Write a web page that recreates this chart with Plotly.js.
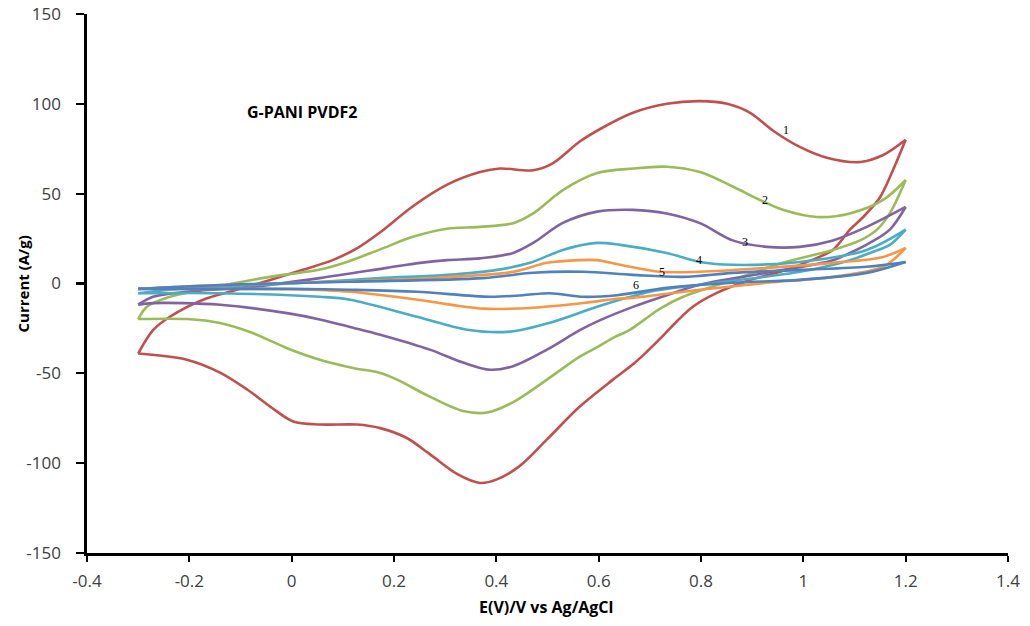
<!DOCTYPE html>
<html>
<head>
<meta charset="utf-8">
<script src="https://cdn.plot.ly/plotly-3.0.1.min.js"></script>
<style>
  html, body { margin: 0; padding: 0; background: #ffffff; }
  #chart { width: 1030px; height: 626px; }
</style>
</head>
<body>
<div id="chart"></div>
<script>
// ---- Data ----
// Each cycle is split into a forward (anodic) sweep and a reverse (cathodic) sweep.
const cycleNames = ['1', '2', '3', '4', '5', '6'];
const cycleColors = ['#C0504D', '#9BBB59', '#8064A2', '#4BACC6', '#F79646', '#4F81BD'];

const c1ForwardE = [-0.3, -0.271, -0.238, -0.173, -0.107, -0.042, 0.022, 0.08, 0.13, 0.173, 0.237, 0.304, 0.368, 0.407, 0.472, 0.511, 0.563, 0.603, 0.667, 0.733, 0.798, 0.851, 0.896, 0.941, 0.993, 1.046, 1.111, 1.156, 1.2];
const c1ForwardI = [-39, -26, -18.5, -9, -3.5, 2, 7.6, 13, 20, 28.5, 43, 55, 62, 64, 63, 67, 79, 86, 95, 100, 101.5, 100, 95, 85, 76, 70, 67.6, 71.5, 80];
const c1ReverseE = [1.2, 1.175, 1.15, 1.117, 1.091, 1.058, 1.007, 0.968, 0.896, 0.831, 0.784, 0.753, 0.726, 0.694, 0.667, 0.628, 0.563, 0.499, 0.446, 0.401, 0.368, 0.323, 0.270, 0.225, 0.173, 0.128, 0.055, 0.003, -0.042, -0.087, -0.14, -0.205, -0.3];
const c1ReverseI = [80, 63, 48, 37, 30, 18.7, 12, 7.6, 2, -5.2, -12.9, -21, -29, -38, -45, -53.5, -68.5, -86.8, -101.5, -109, -111, -106, -95, -86, -80.5, -78.5, -78.5, -76.8, -68.5, -59, -49.6, -42.4, -39];

const c2ForwardE = [-0.3, -0.283, -0.238, -0.173, -0.107, -0.042, 0.055, 0.108, 0.173, 0.237, 0.304, 0.368, 0.433, 0.472, 0.530, 0.597, 0.667, 0.733, 0.798, 0.862, 0.915, 0.960, 1.027, 1.091, 1.156, 1.2];
const c2ForwardI = [-20, -13, -7.4, -3.5, 0.4, 3.7, 7.8, 12, 19, 26, 30.5, 31.5, 33.6, 39, 52, 61.5, 64, 65, 62, 54, 46.5, 41, 37, 39, 46.5, 57.6];
const c2ReverseE = [1.2, 1.169, 1.144, 1.111, 1.058, 0.960, 0.862, 0.765, 0.720, 0.690, 0.660, 0.630, 0.600, 0.563, 0.499, 0.433, 0.382, 0.335, 0.270, 0.206, 0.173, 0.120, 0.055, -0.009, -0.076, -0.14, -0.205, -0.3];
const c2ReverseI = [57.6, 39, 30, 24, 18.7, 11.5, 2, -7.4, -14, -20, -26, -30, -35, -40.7, -53.5, -66, -71.8, -71, -63, -53.5, -49.8, -47, -42.4, -36, -27.6, -22, -19.8, -19.8];

const c3ForwardE = [-0.3, -0.271, -0.205, -0.076, 0.055, 0.186, 0.251, 0.304, 0.368, 0.433, 0.472, 0.530, 0.597, 0.667, 0.733, 0.798, 0.862, 0.929, 0.993, 1.058, 1.124, 1.2];
const c3ForwardI = [-11.8, -7.4, -4.6, -1.8, 3, 8.7, 11.5, 13, 14, 17, 22.6, 33.7, 40, 41, 39, 33.6, 24, 20.4, 20.4, 24, 31.5, 42.6];
const c3ReverseE = [1.2, 1.169, 1.130, 1.091, 1.058, 0.929, 0.798, 0.733, 0.667, 0.603, 0.563, 0.499, 0.433, 0.388, 0.335, 0.270, 0.173, 0.120, 0.055, -0.009, -0.14, -0.271, -0.3];
const c3ReverseI = [42.6, 30, 22.6, 17, 13, 6, -0.7, -6.5, -13, -20.4, -26, -36.8, -46, -48, -44, -36.8, -28.5, -24.6, -20, -16.5, -11.8, -10.9, -11.8];

const c4ForwardE = [-0.3, -0.2, -0.1, 0.0, 0.173, 0.304, 0.401, 0.466, 0.530, 0.597, 0.642, 0.733, 0.798, 0.862, 0.993, 1.124, 1.2];
const c4ForwardI = [-5.4, -2.5, -1.2, 0, 3, 4.8, 7.6, 11.5, 18.7, 22.6, 21.5, 17, 12, 10.4, 12, 18.7, 30];
const c4ReverseE = [1.2, 1.169, 1.130, 1.091, 0.993, 0.798, 0.700, 0.603, 0.505, 0.427, 0.343, 0.245, 0.114, 0.055, -0.14, -0.3];
const c4ReverseI = [30, 21.5, 17, 13, 6.5, -0.7, -4.6, -12.4, -21.8, -26.8, -25.7, -18.5, -9, -7.4, -5.4, -5.4];

const c5ForwardE = [-0.3, -0.2, -0.1, 0.0, 0.2, 0.3, 0.433, 0.499, 0.563, 0.597, 0.642, 0.72, 0.798, 0.929, 1.058, 1.156, 1.2];
const c5ForwardI = [-3, -1.5, -0.5, 0.3, 2, 3.5, 6.5, 11.5, 13, 13, 10.4, 6.5, 6.5, 8.7, 11.5, 14.8, 19.8];
const c5ReverseE = [1.2, 1.156, 1.058, 0.929, 0.798, 0.667, 0.636, 0.57, 0.472, 0.374, 0.245, 0.114, 0.0, -0.1, -0.2, -0.3];
const c5ReverseI = [19.8, 9.3, 3.7, 0.4, -3.5, -8, -8.5, -10.9, -13.5, -14, -9, -4.6, -3.2, -3, -3, -3];

const c6ForwardE = [-0.3, -0.2, -0.1, 0.114, 0.374, 0.472, 0.57, 0.667, 0.765, 0.862, 0.993, 1.124, 1.2];
const c6ForwardI = [-3, -1.5, -0.5, 1, 3, 6, 6.5, 4.8, 3.7, 5.9, 7.6, 9.3, 12];
const c6ReverseE = [1.2, 1.124, 0.993, 0.862, 0.733, 0.636, 0.57, 0.505, 0.452, 0.388, 0.245, 0.114, 0.0, -0.1, -0.2, -0.3];
const c6ReverseI = [12, 5.9, 2, 0.4, -2.4, -6.5, -7.4, -5.4, -6.5, -7.4, -4.6, -3.5, -3, -3, -3, -3];

// Curve label positions (E, I)
const labelE = [0.966, 0.925, 0.886, 0.796, 0.724, 0.673];
const labelI = [85.4, 46.5, 23.2, 13.2, 6.2, -0.7];

// Tick labels
const xTickVals = [-0.4, -0.2, 0, 0.2, 0.4, 0.6, 0.8, 1, 1.2, 1.4];
const xTickText = ['-0.4', '-0.2', '0', '0.2', '0.4', '0.6', '0.8', '1', '1.2', '1.4'];
const yTickVals = [-150, -100, -50, 0, 50, 100, 150];
const yTickText = ['-150', '-100', '-50', '0', '50', '100', '150'];

const chartTitle = 'G-PANI PVDF2';
const xTitle = 'E(V)/V vs Ag/AgCl';
const yTitle = 'Current (A/g)';

// ---- Build traces ----
const cycles = [
  [c1ForwardE, c1ForwardI, c1ReverseE, c1ReverseI],
  [c2ForwardE, c2ForwardI, c2ReverseE, c2ReverseI],
  [c3ForwardE, c3ForwardI, c3ReverseE, c3ReverseI],
  [c4ForwardE, c4ForwardI, c4ReverseE, c4ReverseI],
  [c5ForwardE, c5ForwardI, c5ReverseE, c5ReverseI],
  [c6ForwardE, c6ForwardI, c6ReverseE, c6ReverseI]
];

const traces = [];
cycles.forEach(function (c, i) {
  const line = { color: cycleColors[i], width: 2.6, shape: 'spline', smoothing: 0.9 };
  traces.push({ type: 'scatter', mode: 'lines', x: c[0], y: c[1], line: line, name: cycleNames[i], showlegend: false, hoverinfo: 'skip' });
  traces.push({ type: 'scatter', mode: 'lines', x: c[2], y: c[3], line: line, name: cycleNames[i], showlegend: false, hoverinfo: 'skip' });
});

const annotations = cycleNames.map(function (n, i) {
  return {
    x: labelE[i], y: labelI[i], xref: 'x', yref: 'y', text: n, showarrow: false,
    font: { family: 'Liberation Serif, serif', size: 12, color: '#000000' }
  };
});

annotations.push({
  x: -0.091, y: 95.4, xref: 'x', yref: 'y', xanchor: 'left', yanchor: 'middle',
  text: '<b>' + chartTitle + '</b>', showarrow: false,
  font: { family: 'Open Sans, sans-serif', size: 16, color: '#000000' }
});
annotations.push({
  x: -0.0695, y: 0.5, xref: 'paper', yref: 'paper', xanchor: 'center', yanchor: 'middle',
  text: '<b>' + yTitle + '</b>', textangle: -90, showarrow: false,
  font: { family: 'Open Sans, sans-serif', size: 15, color: '#000000' }
});
annotations.push({
  x: 0.498, y: -0.1, xref: 'paper', yref: 'paper', xanchor: 'center', yanchor: 'middle',
  text: '<b>' + xTitle + '</b>', showarrow: false,
  font: { family: 'Open Sans, sans-serif', size: 16, color: '#000000' }
});

const tickFont = { family: 'Open Sans, sans-serif', size: 17, color: '#404040' };

const layout = {
  width: 1030,
  height: 626,
  margin: { l: 87, r: 22, t: 14, b: 73, pad: 0 },
  paper_bgcolor: '#ffffff',
  plot_bgcolor: '#ffffff',
  showlegend: false,
  xaxis: {
    range: [-0.4, 1.4],
    tickvals: xTickVals,
    ticktext: xTickText,
    showgrid: false,
    zeroline: false,
    showline: true,
    linecolor: '#000000',
    linewidth: 2.6,
    ticks: 'outside',
    ticklen: 6,
    tickwidth: 2.2,
    tickcolor: '#000000',
    tickfont: tickFont,
    ticklabelstandoff: 5,
    automargin: false
  },
  yaxis: {
    range: [-150, 150],
    tickvals: yTickVals,
    ticktext: yTickText,
    showgrid: false,
    zeroline: false,
    showline: true,
    linecolor: '#000000',
    linewidth: 2.6,
    ticks: 'outside',
    ticklen: 8,
    tickwidth: 2.2,
    tickcolor: '#000000',
    tickfont: tickFont,
    ticklabelstandoff: 12,
    automargin: false
  },
  annotations: annotations
};

Plotly.newPlot('chart', traces, layout, { displayModeBar: false, staticPlot: true });
</script>
</body>
</html>
